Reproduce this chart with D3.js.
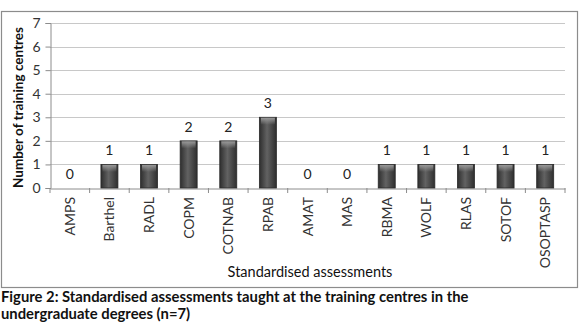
<!DOCTYPE html>
<html><head><meta charset="utf-8">
<script src="https://cdn.jsdelivr.net/npm/d3@7"></script>
<style>body{margin:0;background:#fff}svg{display:block}</style>
</head><body>
<svg id="c" width="580" height="322"></svg>
<script>
const categories = ["AMPS","Barthel","RADL","COPM","COTNAB","RPAB","AMAT","MAS","RBMA","WOLF","RLAS","SOTOF","OSOPTASP"];
const values = [0,1,1,2,2,3,0,0,1,1,1,1,1];
const yTicks = [0,1,2,3,4,5,6,7];
const yTitle = "Number of training centres";
const xTitle = "Standardised assessments";
const captionLines = ["Figure 2: Standardised assessments taught at the training centres in the","undergraduate degrees (n=7)"];

const svg = d3.select("#c");
const font = "Lato, 'Open Sans', sans-serif";
const m = {l:50, r:565, t:23, b:188};

const defs = svg.append("defs");
const g1 = defs.append("linearGradient").attr("id","bg").attr("x1",0).attr("x2",1).attr("y1",0).attr("y2",0);
g1.append("stop").attr("offset","0%").attr("stop-color","#2e2e2e");
g1.append("stop").attr("offset","45%").attr("stop-color","#626262");
g1.append("stop").attr("offset","100%").attr("stop-color","#2e2e2e");
const g2 = defs.append("linearGradient").attr("id","cap").attr("x1",0).attr("x2",0).attr("y1",0).attr("y2",1);
g2.append("stop").attr("offset","0%").attr("stop-color","#9a9a9a");
g2.append("stop").attr("offset","100%").attr("stop-color","#9a9a9a").attr("stop-opacity",0);

// frame
svg.append("rect").attr("x",1.5).attr("y",11.5).attr("width",576).attr("height",276)
  .attr("fill","none").attr("stroke","#8c8c8c").attr("stroke-width",1.2);

const x = d3.scaleBand().domain(categories).range([m.l, m.r]);
const y = d3.scaleLinear().domain([0,7]).range([m.b, m.t]);

// gridlines
svg.append("g").selectAll("line").data(yTicks.filter(d=>d>0)).join("line")
  .attr("x1",m.l).attr("x2",m.r).attr("y1",d=>Math.round(y(d))+0.5).attr("y2",d=>Math.round(y(d))+0.5)
  .attr("stroke","#c8c8c8").attr("stroke-width",1);

// y axis
const ya = svg.append("g").attr("transform",`translate(${m.l+0.5},0)`)
  .call(d3.axisLeft(y).tickValues(yTicks).tickFormat(d3.format("d")).tickSize(5).tickPadding(5));
ya.select(".domain").attr("stroke","#8c8c8c");
ya.selectAll(".tick line").attr("stroke","#8c8c8c");
ya.selectAll(".tick text").attr("font-family",font).attr("font-size",14).attr("fill","#333");

// x axis
const xa = svg.append("g").attr("transform",`translate(0,${Math.round(m.b)+0.5})`)
  .call(d3.axisBottom(x).tickSize(0).tickFormat(""));
xa.select(".domain").attr("stroke","#8c8c8c");
// ticks between categories
svg.append("g").selectAll("line").data(categories.concat(["__end"])).join("line")
  .attr("x1",(d,i)=> i<categories.length ? x(d) : m.r).attr("x2",(d,i)=> i<categories.length ? x(d) : m.r)
  .attr("y1",m.b).attr("y2",m.b+5).attr("stroke","#8c8c8c");

// x labels rotated
svg.append("g").selectAll("text").data(categories).join("text")
  .attr("transform",d=>`translate(${x(d)+x.bandwidth()/2+5},${m.b+9}) rotate(-90)`)
  .attr("text-anchor","end").attr("font-family",font).attr("font-size",14).attr("fill","#333")
  .text(d=>d);

// bars
const bw = 17;
const bars = svg.append("g").selectAll("g").data(categories.map((c,i)=>({c,v:values[i]})).filter(d=>d.v>0)).join("g");
bars.append("rect").attr("x",d=>x(d.c)+x.bandwidth()/2-bw/2).attr("y",d=>y(d.v)).attr("width",bw)
  .attr("height",d=>y(0)-y(d.v)).attr("fill","url(#bg)").attr("stroke","#2a2a2a").attr("stroke-width",0.8);
bars.append("rect").attr("x",d=>x(d.c)+x.bandwidth()/2-bw/2+1.5).attr("y",d=>y(d.v)+0.5).attr("width",bw-3)
  .attr("height",7).attr("fill","url(#cap)");

// value labels
svg.append("g").selectAll("text").data(categories.map((c,i)=>({c,v:values[i]}))).join("text")
  .attr("x",d=>x(d.c)+x.bandwidth()/2).attr("y",d=>y(d.v)-9)
  .attr("text-anchor","middle").attr("font-family",font).attr("font-size",14).attr("fill","#222")
  .text(d=>d.v);

// titles
svg.append("text").attr("transform",`translate(23,${(m.t+m.b)/2+2}) rotate(-90)`)
  .attr("text-anchor","middle").attr("font-family",font).attr("font-weight","bold").attr("font-size",13.5).attr("fill","#111")
  .text(yTitle);
svg.append("text").attr("x",310).attr("y",277).attr("text-anchor","middle")
  .attr("font-family",font).attr("font-size",14.5).attr("fill","#111").text(xTitle);

// caption
svg.append("g").selectAll("text").data(captionLines).join("text")
  .attr("x",1).attr("y",(d,i)=>302+i*17).attr("font-family",font).attr("font-weight","bold")
  .attr("font-size",14.8).attr("fill","#111").text(d=>d);
</script>
</body></html>
